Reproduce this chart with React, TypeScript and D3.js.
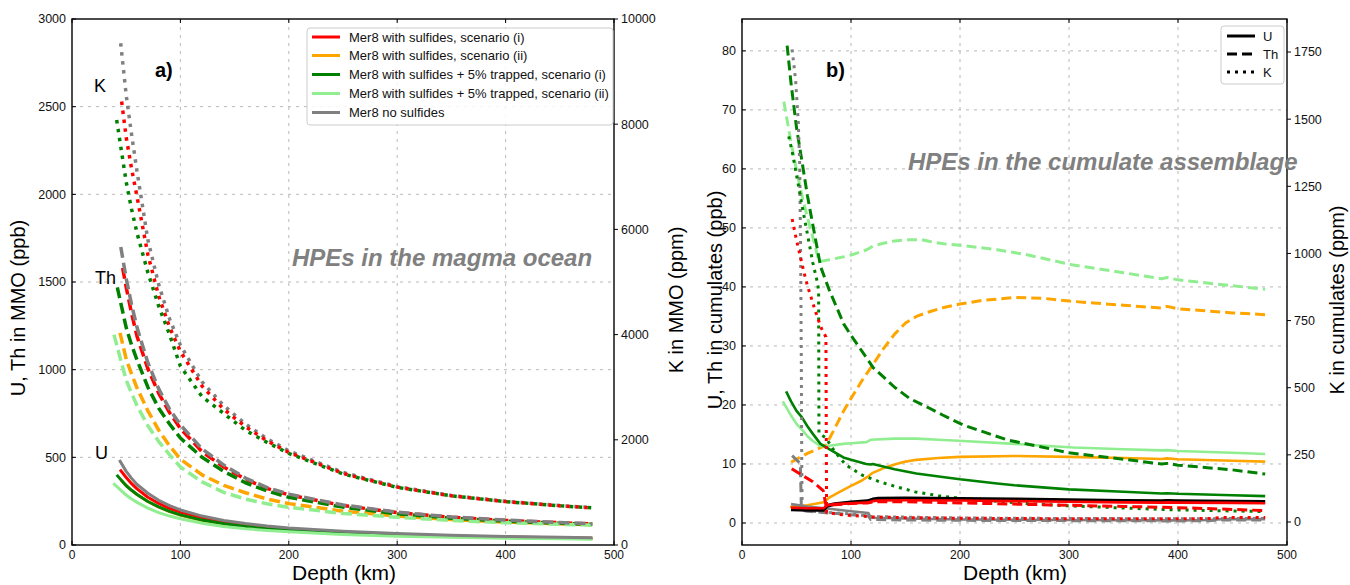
import React from 'react';
import * as d3 from 'd3';

// ---------- panel a) magma ocean ----------
// depth grid shared by all panel a curves (first point of each curve is its own start depth)
const gridA = [50, 55, 60, 70, 80, 90, 100, 120, 140, 160, 180, 200, 250, 300, 350, 400, 450, 480];

const colors = ['#ff0000', '#ffa500', '#008000', '#90ee90', '#808080'];
const names = [
  'Mer8 with sulfides, scenario (i)',
  'Mer8 with sulfides, scenario (ii)',
  'Mer8 with sulfides + 5% trapped, scenario (i)',
  'Mer8 with sulfides + 5% trapped, scenario (ii)',
  'Mer8 no sulfides',
];

// U (ppb), order: red, orange, green, lightgreen, gray
const aUStart = [44.3, 45, 41.2, 38.1, 43.7];
const aURed = [430, 385, 350, 320, 272, 237, 208, 186, 153, 130, 113, 100, 90, 72, 60, 52, 46, 41, 38];
const aUOrange = [372, 340, 312, 288, 248, 216, 190, 170, 140, 119, 104, 92, 83, 66, 55, 48, 43, 39, 37];
const aUGreen = [400, 338, 312, 288, 248, 218, 192, 172, 142, 121, 105, 93, 84, 67, 56, 49, 43, 39, 37];
const aULight = [352, 285, 262, 243, 210, 185, 165, 150, 124, 106, 93, 83, 75, 60, 50, 44, 39, 35, 33];
const aUGray = [485, 420, 380, 345, 295, 255, 225, 200, 165, 140, 122, 108, 97, 78, 65, 56, 49, 44, 41];

// Th (ppb)
const aThStart = [46.7, 44.3, 41.8, 38.7, 45];
const aThRed = [1580, 1470, 1320, 1190, 1005, 865, 755, 665, 532, 445, 375, 322, 286, 225, 185, 158, 140, 127, 120];
const aThOrange = [1210, 1060, 975, 895, 765, 655, 565, 490, 400, 340, 298, 262, 236, 193, 165, 145, 131, 121, 116];
const aThGreen = [1470, 1240, 1140, 1055, 900, 780, 690, 610, 500, 420, 355, 308, 272, 216, 178, 153, 136, 124, 118];
const aThLight = [1200, 940, 865, 795, 680, 590, 515, 445, 360, 300, 262, 235, 215, 180, 158, 140, 127, 118, 113];
const aThGray = [1700, 1520, 1370, 1240, 1040, 890, 775, 685, 548, 456, 382, 328, 290, 228, 187, 160, 142, 128, 121];

// K (ppm), only red, green and gray are visible
const aKStart = [45.8, 41.2, 44.9];
const aKRed = [8430, 7750, 7150, 6620, 5520, 4730, 4140, 3680, 3020, 2580, 2250, 1980, 1760, 1360, 1100, 935, 825, 745, 705];
const aKGreen = [8080, 6900, 6380, 5930, 5180, 4540, 4000, 3400, 2820, 2500, 2180, 1950, 1740, 1350, 1095, 935, 825, 745, 705];
const aKGray = [9540, 8550, 7800, 7100, 5800, 4950, 4300, 3800, 3100, 2650, 2300, 2020, 1790, 1380, 1110, 940, 830, 750, 710];

// ---------- panel b) cumulates ----------
const bURedD = [45, 60, 75, 78, 85, 100, 115, 120, 125, 150, 200, 250, 300, 350, 385, 390, 400, 450, 480];
const bURed = [2.6, 2.5, 2.5, 3.0, 3.2, 3.35, 3.45, 3.7, 3.8, 3.85, 3.8, 3.7, 3.6, 3.5, 3.45, 3.5, 3.45, 3.4, 3.35];
const bUBlack = [2.3, 2.2, 2.2, 2.9, 3.2, 3.5, 3.7, 4.0, 4.15, 4.2, 4.1, 4.0, 3.9, 3.75, 3.7, 3.75, 3.7, 3.65, 3.6];
const bUOrangeD = [44, 60, 75, 80, 90, 100, 110, 115, 120, 130, 140, 150, 160, 180, 200, 250, 300, 350, 385, 390, 400, 450, 480];
const bUOrange = [2.7, 3.0, 3.5, 4.3, 5.3, 6.3, 7.2, 7.8, 8.5, 9.3, 9.9, 10.4, 10.7, 11.0, 11.2, 11.35, 11.2, 11.0, 10.85, 10.95, 10.8, 10.55, 10.4];
const bUGreenD = [40.5, 45, 50, 55, 60, 65, 72, 80, 93, 100, 114, 118, 120, 140, 160, 184, 200, 234, 250, 300, 350, 385, 390, 400, 450, 480];
const bUGreen = [22.3, 20.6, 19.0, 17.9, 16.4, 15.1, 13.4, 12.5, 11.1, 10.7, 10.0, 9.9, 10.0, 9.1, 8.4, 7.8, 7.4, 6.7, 6.4, 5.7, 5.3, 5.0, 5.05, 4.95, 4.7, 4.55];
const bULightD = [37.5, 45, 50, 55.6, 60, 65, 72, 80, 93, 100, 114, 118, 140, 160, 180, 203, 250, 304, 350, 385, 390, 400, 450, 480];
const bULight = [20.6, 18.2, 16.8, 15.7, 14.7, 13.9, 13.0, 13.1, 13.4, 13.5, 13.7, 14.1, 14.3, 14.3, 14.1, 13.9, 13.4, 12.8, 12.5, 12.3, 12.35, 12.2, 11.9, 11.7];
const bUGrayD = [45, 60, 80, 100, 116, 118, 150, 200, 300, 400, 430, 440, 480];
const bUGray = [3.2, 2.8, 2.4, 2.0, 1.7, 0.9, 0.75, 0.6, 0.5, 0.45, 0.5, 0.65, 0.65];

const bThRedD = [45.6, 55, 65, 74.5, 77, 85, 100, 115, 121, 150, 200, 250, 300, 350, 400, 450, 480];
const bThRed = [9.2, 8.1, 7.0, 5.5, 3.0, 3.1, 3.3, 3.4, 3.6, 3.6, 3.4, 3.2, 3.0, 2.8, 2.6, 2.3, 2.1];
const bThOrangeD = [45, 60, 70, 77, 85, 93, 100, 110, 120, 130, 140, 150, 160, 172, 185, 200, 220, 250, 275, 300, 350, 385, 390, 400, 450, 480];
const bThOrange = [10.3, 11.8, 12.6, 13.2, 16.0, 18.9, 21.1, 24.1, 26.8, 29.6, 32.0, 33.9, 35.0, 35.8, 36.5, 37.1, 37.7, 38.2, 38.1, 37.6, 36.9, 36.4, 36.7, 36.3, 35.6, 35.3];
const bThGreenD = [41.4, 45, 50, 55.6, 60, 65, 72.2, 80, 93.4, 100, 120.5, 140, 153.8, 172.5, 184, 203, 243, 300, 350, 385, 390, 400, 450, 480];
const bThGreen = [80.9, 74.5, 67.0, 60.6, 55.5, 50.5, 43.4, 39.5, 33.7, 31.8, 26.3, 23.0, 21.1, 19.4, 18.3, 16.6, 14.1, 11.9, 10.8, 10.0, 10.1, 9.8, 9.0, 8.3];
const bThLightD = [38.4, 45, 50, 55, 60, 65, 70.7, 80, 93.4, 100, 114.5, 120, 129.6, 140, 153.8, 165, 172.5, 185, 203, 234, 260, 304, 350, 385, 390, 400, 450, 480];
const bThLight = [71.4, 64.5, 59.8, 55.5, 51.8, 48.4, 44.3, 44.6, 45.1, 45.4, 46.3, 46.9, 47.4, 47.8, 48.0, 48.0, 47.7, 47.3, 47.0, 46.3, 45.5, 43.7, 42.4, 41.4, 41.6, 41.2, 40.2, 39.6];
const bThGrayD = [46, 50, 53.5, 54.5, 60, 80, 100, 116, 118, 150, 200, 300, 400, 430, 440, 480];
const bThGray = [11.4, 10.7, 10.1, 2.2, 2.0, 1.7, 1.4, 1.2, 0.6, 0.5, 0.45, 0.4, 0.35, 0.4, 0.5, 0.5];

const bKRedD = [46, 50, 57, 60, 65, 69, 73, 77, 77.6, 90, 100, 120, 150, 200, 300, 400, 430, 440, 480];
const bKRed = [1128, 1050, 927, 880, 815, 764, 720, 689, 35, 28, 24, 19, 16, 14, 12, 12, 13, 17, 17];
const bKGreenD = [42.9, 46, 52.3, 55, 61.5, 65, 69.3, 70.3, 70.6, 77, 85, 95.4, 110, 126.6, 140, 159, 180, 200, 255.7, 300, 350, 384, 400, 450, 480];
const bKGreen = [1436, 1380, 1242, 1180, 1040, 965, 890, 860, 330, 313, 262, 212, 175, 149, 133, 112, 98, 88, 70, 60, 52, 47, 45, 41, 39];
const bKGrayD = [46, 49.2, 51.6, 52.9, 53.8, 54.4, 54.8, 55.2, 70, 100, 120, 200, 300, 400, 480];
const bKGray = [1760, 1644, 1493, 1342, 991, 613, 237, 45, 38, 30, 20, 15, 13, 12, 13];

const xTicks = [0, 100, 200, 300, 400, 500];
const aLeftTicks = [0, 500, 1000, 1500, 2000, 2500, 3000];
const aRightTicks = [0, 2000, 4000, 6000, 8000, 10000];
const bLeftTicks = [0, 10, 20, 30, 40, 50, 60, 70, 80];
const bRightTicks = [0, 250, 500, 750, 1000, 1250, 1500, 1750];

const FONT = '"Liberation Sans", Arial, Helvetica, sans-serif';
const TOP = 19;
const BOTTOM = 545;

type Kind = 'U' | 'Th' | 'K';
const styleA: Record<Kind, { w: number; dash?: string }> = {
  U: { w: 3 },
  Th: { w: 3.5, dash: '11,5' },
  K: { w: 3.5, dash: '3.5,5.5' },
};
const styleB: Record<Kind, { w: number; dash?: string }> = {
  U: { w: 2.6 },
  Th: { w: 3, dash: '10,5' },
  K: { w: 3, dash: '3,5' },
};

const zipA = (start: number, vals: number[]) => [start, ...gridA].map((d, i) => [d, vals[i]] as [number, number]);
const zip = (ds: number[], vals: number[]) => ds.map((d, i) => [d, vals[i]] as [number, number]);

function Axes({ x, yL, yR, leftTicks, rightTicks, id }: any) {
  const [x0, x1] = x.range();
  return (
    <g fontFamily={FONT} fontSize={12.5} fill="#111">
      {xTicks.slice(1, -1).map(t => (
        <line key={'gx' + t} x1={x(t)} x2={x(t)} y1={TOP} y2={BOTTOM} stroke="#b0b0b0" strokeWidth={0.9} strokeDasharray="3,5" />
      ))}
      {leftTicks.filter((t: number) => yL(t) > TOP + 2 && yL(t) < BOTTOM - 2).map((t: number) => (
        <line key={'gy' + t} x1={x0} x2={x1} y1={yL(t)} y2={yL(t)} stroke="#b0b0b0" strokeWidth={0.9} strokeDasharray="3,5" />
      ))}
      <rect x={x0} y={TOP} width={x1 - x0} height={BOTTOM - TOP} fill="none" stroke="#000" strokeWidth={1.4} />
      {xTicks.map(t => (
        <g key={'xt' + t}>
          <line x1={x(t)} x2={x(t)} y1={BOTTOM} y2={BOTTOM - 4} stroke="#000" />
          <line x1={x(t)} x2={x(t)} y1={TOP} y2={TOP + 4} stroke="#000" />
          <text x={x(t)} y={BOTTOM + 14} fontSize={12} textAnchor="middle">{t}</text>
        </g>
      ))}
      {leftTicks.map((t: number) => (
        <g key={'yl' + t}>
          <line x1={x0} x2={x0 + 4} y1={yL(t)} y2={yL(t)} stroke="#000" />
          <text x={x0 - 6} y={yL(t)} dy="0.35em" textAnchor="end">{t}</text>
        </g>
      ))}
      {rightTicks.map((t: number) => (
        <g key={'yr' + t}>
          <line x1={x1} x2={x1 + 4} y1={yR(t)} y2={yR(t)} stroke="#000" />
          <text x={x1 + 7} y={yR(t)} dy="0.35em" textAnchor="start">{t}</text>
        </g>
      ))}
      <defs>
        <clipPath id={id}>
          <rect x={x0} y={TOP} width={x1 - x0} height={BOTTOM - TOP} />
        </clipPath>
      </defs>
    </g>
  );
}

export default function App() {
  const ax = d3.scaleLinear().domain([0, 500]).range([72, 614]);
  const ayL = d3.scaleLinear().domain([0, 3000]).range([BOTTOM, TOP]);
  const ayR = d3.scaleLinear().domain([0, 10000]).range([BOTTOM, TOP]);
  const bx = d3.scaleLinear().domain([0, 500]).range([742, 1287]);
  const byL = d3.scaleLinear().domain([-3.73, 85.4]).range([BOTTOM, TOP]);
  const byR = d3.scaleLinear().domain([-85.7, 1873]).range([BOTTOM, TOP]);

  const path = (x: any, y: any, pts: [number, number][]) =>
    d3.line<[number, number]>().x(p => x(p[0])).y(p => y(p[1]))(pts) || '';

  const aU = [aURed, aUOrange, aUGreen, aULight, aUGray];
  const aTh = [aThRed, aThOrange, aThGreen, aThLight, aThGray];
  const aK = [aKGray, aKRed, aKGreen];
  const aKStartOrdered = [aKStart[2], aKStart[0], aKStart[1]];
  const aKColors = [colors[4], colors[0], colors[2]];

  const aLines: { d: string; c: string; k: Kind }[] = [];
  aK.forEach((v, i) => aLines.push({ d: path(ax, ayR, zipA(aKStartOrdered[i], v)), c: aKColors[i], k: 'K' }));
  aTh.forEach((v, i) => aLines.push({ d: path(ax, ayL, zipA(aThStart[i], v)), c: colors[i], k: 'Th' }));
  aU.forEach((v, i) => aLines.push({ d: path(ax, ayL, zipA(aUStart[i], v)), c: colors[i], k: 'U' }));

  const bLines: { d: string; c: string; k: Kind; w?: number }[] = [
    { d: path(bx, byL, zip(bThLightD, bThLight)), c: colors[3], k: 'Th' },
    { d: path(bx, byL, zip(bThOrangeD, bThOrange)), c: colors[1], k: 'Th' },
    { d: path(bx, byL, zip(bULightD, bULight)), c: colors[3], k: 'U' },
    { d: path(bx, byL, zip(bUOrangeD, bUOrange)), c: colors[1], k: 'U' },
    { d: path(bx, byL, zip(bUGreenD, bUGreen)), c: colors[2], k: 'U' },
    { d: path(bx, byL, zip(bThGreenD, bThGreen)), c: colors[2], k: 'Th' },
    { d: path(bx, byL, zip(bUGrayD, bUGray)), c: colors[4], k: 'U' },
    { d: path(bx, byL, zip(bThGrayD, bThGray)), c: colors[4], k: 'Th' },
    { d: path(bx, byR, zip(bKGrayD, bKGray)), c: colors[4], k: 'K' },
    { d: path(bx, byR, zip(bKGreenD, bKGreen)), c: colors[2], k: 'K' },
    { d: path(bx, byL, zip(bURedD, bUBlack)), c: '#000', k: 'U', w: 3.6 },
    { d: path(bx, byL, zip(bURedD, bURed)), c: colors[0], k: 'U' },
    { d: path(bx, byL, zip(bThRedD, bThRed)), c: colors[0], k: 'Th' },
    { d: path(bx, byR, zip(bKRedD, bKRed)), c: colors[0], k: 'K' },
  ];

  const legendRows = [37, 55.5, 74.5, 93.5, 112.5];
  const legBRows = [36, 54, 72];
  const legBKinds: Kind[] = ['U', 'Th', 'K'];

  return (
    <svg width={1350} height={585} style={{ position: 'absolute', left: 0, top: 0, background: '#fff' }} fontFamily={FONT}>
      <rect width={1350} height={585} fill="#fff" />
      {/* panel a */}
      <Axes x={ax} yL={ayL} yR={ayR} leftTicks={aLeftTicks} rightTicks={aRightTicks} id="clipA" />
      <g clipPath="url(#clipA)" fill="none" strokeLinejoin="round">
        {aLines.map((l, i) => (
          <path key={i} d={l.d} stroke={l.c} strokeWidth={styleA[l.k].w} strokeDasharray={styleA[l.k].dash} />
        ))}
      </g>
      <text x={155} y={77} fontSize={20} fontWeight="bold">a)</text>
      <text x={94} y={92} fontSize={18}>K</text>
      <text x={95} y={284} fontSize={18}>Th</text>
      <text x={95} y={459} fontSize={18}>U</text>
      <text x={292} y={266} fontSize={24} fontWeight="bold" fontStyle="italic" fill="#808080">HPEs in the magma ocean</text>
      <g>
        <rect x={307} y={28} width={306} height={97} rx={3} fill="#fff" fillOpacity={0.85} stroke="#cccccc" />
        {names.map((n, i) => (
          <g key={n}>
            <line x1={312} x2={340} y1={legendRows[i]} y2={legendRows[i]} stroke={colors[i]} strokeWidth={3} />
            <text x={349} y={legendRows[i]} dy="0.35em" fontSize={13} fill="#111">{n}</text>
          </g>
        ))}
      </g>
      <text x={344} y={580} fontSize={21} textAnchor="middle">Depth (km)</text>
      <text transform="translate(25,308) rotate(-90)" fontSize={20} textAnchor="middle">U, Th in MMO (ppb)</text>
      <text transform="translate(683,300) rotate(-90)" fontSize={20} textAnchor="middle">K in MMO (ppm)</text>

      {/* panel b */}
      <Axes x={bx} yL={byL} yR={byR} leftTicks={bLeftTicks} rightTicks={bRightTicks} id="clipB" />
      <g clipPath="url(#clipB)" fill="none" strokeLinejoin="round">
        {bLines.map((l, i) => (
          <path key={i} d={l.d} stroke={l.c} strokeWidth={l.w ?? styleB[l.k].w} strokeDasharray={styleB[l.k].dash} />
        ))}
      </g>
      <text x={826} y={77} fontSize={20} fontWeight="bold">b)</text>
      <text x={908} y={170} fontSize={24} fontWeight="bold" fontStyle="italic" fill="#808080">HPEs in the cumulate assemblage</text>
      <g>
        <rect x={1221} y={26} width={63} height={58} rx={3} fill="#fff" fillOpacity={0.85} stroke="#cccccc" />
        {legBKinds.map((k, i) => (
          <g key={k}>
            <line x1={1227} x2={1255} y1={legBRows[i]} y2={legBRows[i]} stroke="#000" strokeWidth={3}
              strokeDasharray={k === 'Th' ? '10,5' : k === 'K' ? '3,5' : undefined} />
            <text x={1263} y={legBRows[i]} dy="0.35em" fontSize={13} fill="#111">{k}</text>
          </g>
        ))}
      </g>
      <text x={1015} y={580} fontSize={21} textAnchor="middle">Depth (km)</text>
      <text transform="translate(722,300) rotate(-90)" fontSize={20} textAnchor="middle">U, Th in cumulates (ppb)</text>
      <text transform="translate(1344,300) rotate(-90)" fontSize={20} textAnchor="middle">K in cumulates (ppm)</text>
    </svg>
  );
}
